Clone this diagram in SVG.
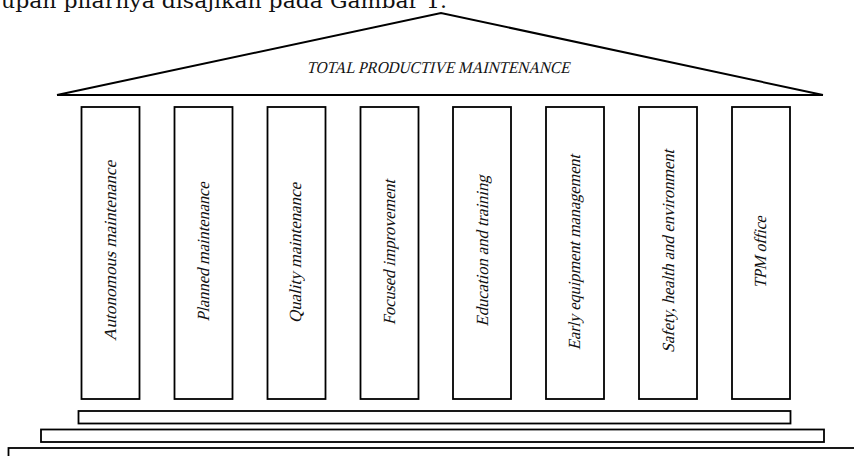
<svg xmlns="http://www.w3.org/2000/svg" width="854" height="456" viewBox="0 0 854 456">
  <style>
    .line { fill: none; stroke: #000; stroke-width: 2; }
    .col { fill: #fff; stroke: #000; stroke-width: 1.8; }
    .step { fill: #fff; stroke: #000; stroke-width: 1.8; }
    .lbl { font-family: "Liberation Serif", serif; font-style: normal; font-size: 17px; fill: #111; text-anchor: middle; }
    .title { font-family: "Liberation Serif", serif; font-style: normal; font-size: 16.5px; fill: #111; text-anchor: middle; }
    .top { font-family: "DejaVu Serif", "Liberation Serif", serif; font-size: 20px; fill: #111; }
  </style>
  <rect width="854" height="456" fill="#fff"/>
  <text class="top" x="1" y="8" textLength="446" lengthAdjust="spacingAndGlyphs">upan pilarnya disajikan pada Gambar 1.</text>

  <g id="roof">
    <polyline class="line" points="57,95 441,13 823,95"/>
    <line class="line" x1="57" y1="95" x2="823" y2="95"/>
    <text class="title" transform="translate(438,73) skewX(-14)" textLength="263" lengthAdjust="spacingAndGlyphs">TOTAL PRODUCTIVE MAINTENANCE</text>
  </g>

  <g id="pillar-1">
    <rect class="col" x="81.5" y="107" width="58" height="292"/>
    <text class="lbl" transform="translate(115.5,251) rotate(-90) skewX(-14)" textLength="180" lengthAdjust="spacingAndGlyphs">Autonomous maintenance</text>
  </g>
  <g id="pillar-2">
    <rect class="col" x="174.5" y="107" width="58" height="292"/>
    <text class="lbl" transform="translate(208.5,252) rotate(-90) skewX(-14)" textLength="139" lengthAdjust="spacingAndGlyphs">Planned maintenance</text>
  </g>
  <g id="pillar-3">
    <rect class="col" x="267.5" y="107" width="58" height="292"/>
    <text class="lbl" transform="translate(301,253) rotate(-90) skewX(-14)" textLength="140" lengthAdjust="spacingAndGlyphs">Quality maintenance</text>
  </g>
  <g id="pillar-4">
    <rect class="col" x="360.5" y="107" width="58" height="292"/>
    <text class="lbl" transform="translate(394.5,252.5) rotate(-90) skewX(-14)" textLength="145" lengthAdjust="spacingAndGlyphs">Focused improvement</text>
  </g>
  <g id="pillar-5">
    <rect class="col" x="453" y="107" width="58" height="292"/>
    <text class="lbl" transform="translate(488,251) rotate(-90) skewX(-14)" textLength="151" lengthAdjust="spacingAndGlyphs">Education and training</text>
  </g>
  <g id="pillar-6">
    <rect class="col" x="546" y="107" width="58" height="292"/>
    <text class="lbl" transform="translate(580,252.5) rotate(-90) skewX(-14)" textLength="195" lengthAdjust="spacingAndGlyphs">Early equipment management</text>
  </g>
  <g id="pillar-7">
    <rect class="col" x="639" y="107" width="58" height="292"/>
    <text class="lbl" transform="translate(674,251.5) rotate(-90) skewX(-14)" textLength="203" lengthAdjust="spacingAndGlyphs">Safety,  health and environment</text>
  </g>
  <g id="pillar-8">
    <rect class="col" x="732" y="107" width="58" height="292"/>
    <text class="lbl" transform="translate(766,252.5) rotate(-90) skewX(-14)" textLength="72" lengthAdjust="spacingAndGlyphs">TPM office</text>
  </g>

  <g id="base">
    <rect class="step" x="78.5" y="411" width="712" height="12.5"/>
    <rect class="step" x="41" y="429.5" width="783" height="12.5"/>
    <rect class="step" x="8.5" y="448" width="900" height="30"/>
  </g>
</svg>
